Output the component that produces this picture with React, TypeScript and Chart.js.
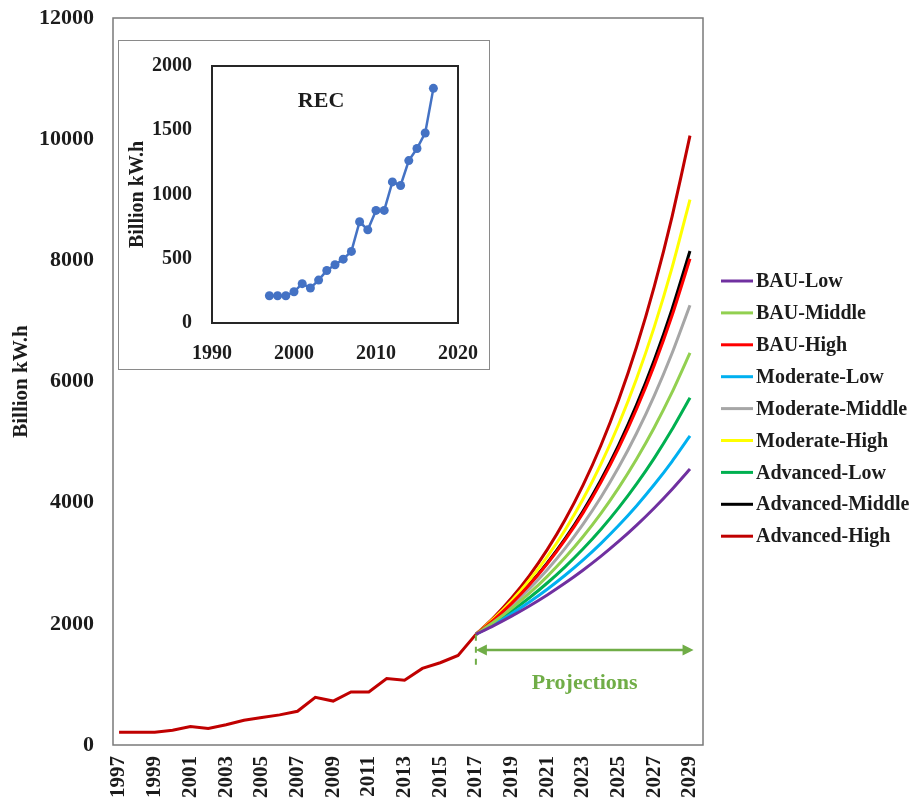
import React, { useEffect, useRef } from "react";
import { Chart, registerables } from "chart.js";

Chart.register(...registerables);

const FONT = "'Liberation Serif', 'Times New Roman', Times, serif";

// Historical renewable electricity consumption (REC), billion kW.h
const histYears = [1997, 1998, 1999, 2000, 2001, 2002, 2003, 2004, 2005, 2006, 2007, 2008, 2009, 2010, 2011, 2012, 2013, 2014, 2015, 2016, 2017];
const recValues = [212, 212, 212, 243, 306, 272, 334, 409, 453, 497, 557, 788, 725, 876, 876, 1098, 1070, 1264, 1358, 1479, 1826];

// Projection years and scenario series
const projYears = [2017, 2018, 2019, 2020, 2021, 2022, 2023, 2024, 2025, 2026, 2027, 2028, 2029];
const bauLow = [1826, 1971, 2127, 2295, 2477, 2673, 2885, 3113, 3360, 3626, 3913, 4223, 4557];
const bauMiddle = [1826, 2029, 2255, 2505, 2784, 3094, 3438, 3820, 4245, 4717, 5241, 5824, 6472];
const bauHigh = [1826, 2066, 2337, 2644, 2991, 3384, 3828, 4331, 4899, 5542, 6270, 7093, 8025];
const moderateLow = [1826, 1989, 2167, 2361, 2572, 2802, 3052, 3325, 3622, 3946, 4299, 4683, 5102];
const moderateMiddle = [1826, 2049, 2298, 2579, 2893, 3245, 3641, 4085, 4583, 5141, 5768, 6471, 7260];
const moderateHigh = [1826, 2086, 2382, 2721, 3108, 3550, 4055, 4632, 5290, 6042, 6902, 7883, 9004];
const advancedLow = [1826, 2009, 2210, 2430, 2674, 2941, 3235, 3558, 3914, 4306, 4736, 5210, 5731];
const advancedMiddle = [1826, 2069, 2343, 2654, 3007, 3406, 3859, 4371, 4951, 5609, 6354, 7198, 8153];
const advancedHigh = [1826, 2105, 2427, 2797, 3225, 3718, 4286, 4940, 5695, 6565, 7569, 8725, 10058];

const scenarioNames = ["BAU-Low", "BAU-Middle", "BAU-High", "Moderate-Low", "Moderate-Middle", "Moderate-High", "Advanced-Low", "Advanced-Middle", "Advanced-High"];
const scenarioSeries = [bauLow, bauMiddle, bauHigh, moderateLow, moderateMiddle, moderateHigh, advancedLow, advancedMiddle, advancedHigh];
const scenarioColors = ["#7030A0", "#92D050", "#FF0000", "#00B0F0", "#A6A6A6", "#FFFF00", "#00B050", "#000000", "#C00000"];

// Tick labels
const mainXTicks = [1997, 1999, 2001, 2003, 2005, 2007, 2009, 2011, 2013, 2015, 2017, 2019, 2021, 2023, 2025, 2027, 2029];
const mainYTicks = [0, 2000, 4000, 6000, 8000, 10000, 12000];
const insetXTicks = [1990, 2000, 2010, 2020];
const insetYTicks = [0, 500, 1000, 1500, 2000];

// Annotation anchors (data units)
const projStartYear = 2017;
const projArrowEndYear = 2029.2;
const projArrowValue = 1570;
const projDashTop = 1820;
const projDashBottom = 1300;
const projLabelValue = 1020;

const TEXT = "#1c1c1c";
const GREEN = "#70AD47";

const zeroPad = (s: any) => {
  s.paddingTop = 0;
  s.paddingBottom = 0;
  s.paddingLeft = 0;
  s.paddingRight = 0;
};

export default function App() {
  const mainRef = useRef<HTMLCanvasElement>(null);
  const insetRef = useRef<HTMLCanvasElement>(null);

  useEffect(() => {
    const frame = {
      id: "frame",
      afterDraw(chart: any) {
        const { ctx, chartArea: a } = chart;
        ctx.save();
        ctx.strokeStyle = "#7a7a7a";
        ctx.lineWidth = 1.5;
        ctx.strokeRect(a.left, a.top, a.right - a.left, a.bottom - a.top);
        ctx.restore();
      },
    };

    const annotations = {
      id: "annotations",
      afterDatasetsDraw(chart: any) {
        const { ctx } = chart;
        const xs = chart.scales.x;
        const ys = chart.scales.y;
        const x1 = xs.getPixelForValue(projStartYear);
        const x2 = xs.getPixelForValue(projArrowEndYear);
        const ya = ys.getPixelForValue(projArrowValue);
        ctx.save();
        ctx.strokeStyle = GREEN;
        ctx.fillStyle = GREEN;
        ctx.lineWidth = 2;
        ctx.setLineDash([6, 6]);
        ctx.beginPath();
        ctx.moveTo(x1, ys.getPixelForValue(projDashTop));
        ctx.lineTo(x1, ys.getPixelForValue(projDashBottom));
        ctx.stroke();
        ctx.setLineDash([]);
        ctx.lineWidth = 2.5;
        ctx.beginPath();
        ctx.moveTo(x1 + 8, ya);
        ctx.lineTo(x2 - 8, ya);
        ctx.stroke();
        const head = (x: number, dir: number) => {
          ctx.beginPath();
          ctx.moveTo(x, ya);
          ctx.lineTo(x - dir * 11, ya - 5.5);
          ctx.lineTo(x - dir * 11, ya + 5.5);
          ctx.closePath();
          ctx.fill();
        };
        head(x1, -1);
        head(x2, 1);
        ctx.font = `bold 22px ${FONT}`;
        ctx.textAlign = "center";
        ctx.textBaseline = "middle";
        ctx.fillText("Projections", (x1 + x2) / 2, ys.getPixelForValue(projLabelValue));
        ctx.restore();
      },
    };

    const legend = {
      id: "customLegend",
      afterDraw(chart: any) {
        const { ctx, chartArea: a } = chart;
        ctx.save();
        ctx.font = `bold 20px ${FONT}`;
        ctx.textBaseline = "middle";
        ctx.textAlign = "left";
        scenarioNames.forEach((name, i) => {
          const y = 281 + i * 31.9;
          const x0 = a.right + 18;
          ctx.strokeStyle = scenarioColors[i];
          ctx.lineWidth = 3;
          ctx.beginPath();
          ctx.moveTo(x0, y);
          ctx.lineTo(x0 + 32, y);
          ctx.stroke();
          ctx.fillStyle = TEXT;
          ctx.fillText(name, x0 + 35, y + 1);
        });
        ctx.restore();
      },
    };

    const mainChart = new Chart(mainRef.current!, {
      type: "line",
      data: {
        datasets: [
          {
            label: "REC",
            data: histYears.map((x, i) => ({ x, y: recValues[i] })),
            borderColor: "#C00000",
            backgroundColor: "#C00000",
            borderWidth: 3,
            pointRadius: 0,
            tension: 0,
          },
          ...scenarioNames.map((name, k) => ({
            label: name,
            data: projYears.map((x, i) => ({ x, y: scenarioSeries[k][i] })),
            borderColor: scenarioColors[k],
            backgroundColor: scenarioColors[k],
            borderWidth: 3,
            pointRadius: 0,
            tension: 0.2,
          })),
        ],
      },
      options: {
        responsive: false,
        animation: false,
        devicePixelRatio: 1,
        layout: { padding: { top: 18, right: 218, left: 0, bottom: 0 } },
        plugins: { legend: { display: false }, tooltip: { enabled: false } },
        scales: {
          x: {
            type: "linear",
            min: 1996.66,
            max: 2029.73,
            grid: { display: false, drawTicks: false },
            border: { display: false },
            afterBuildTicks: (s: any) => {
              s.ticks = mainXTicks.map((v) => ({ value: v }));
            },
            afterFit: (s: any) => {
              s.height = 65;
              zeroPad(s);
            },
            ticks: {
              autoSkip: false,
              minRotation: 90,
              maxRotation: 90,
              padding: 11,
              color: TEXT,
              font: { family: FONT, size: 21, weight: "bold" },
              callback: (v: any) => String(v),
            },
          },
          y: {
            type: "linear",
            min: 0,
            max: 12000,
            grid: { display: false, drawTicks: false },
            border: { display: false },
            afterBuildTicks: (s: any) => {
              s.ticks = mainYTicks.map((v) => ({ value: v }));
            },
            afterFit: (s: any) => {
              s.width = 113;
              zeroPad(s);
            },
            ticks: {
              padding: 19,
              color: TEXT,
              font: { family: FONT, size: 22, weight: "bold" },
              callback: (v: any) => String(v),
            },
            title: {
              display: true,
              text: "Billion kW.h",
              color: TEXT,
              font: { family: FONT, size: 21, weight: "bold" },
              padding: { top: 9, bottom: 0 },
            },
          },
        },
      },
      plugins: [frame, annotations, legend],
    } as any);

    const insetBg = {
      id: "insetBg",
      beforeDraw(chart: any) {
        const { ctx, width, height } = chart;
        ctx.save();
        ctx.fillStyle = "#ffffff";
        ctx.fillRect(0, 0, width, height);
        ctx.strokeStyle = "#8a8a8a";
        ctx.lineWidth = 1;
        ctx.strokeRect(0.5, 0.5, width - 1, height - 1);
        ctx.restore();
      },
      afterDraw(chart: any) {
        const { ctx, chartArea: a } = chart;
        ctx.save();
        ctx.strokeStyle = "#262626";
        ctx.lineWidth = 2;
        ctx.strokeRect(a.left, a.top, a.right - a.left, a.bottom - a.top);
        ctx.font = `bold 22px ${FONT}`;
        ctx.fillStyle = TEXT;
        ctx.textAlign = "center";
        ctx.textBaseline = "middle";
        ctx.fillText("REC", chart.scales.x.getPixelForValue(2003.3), chart.scales.y.getPixelForValue(1725));
        ctx.restore();
      },
    };

    const insetChart = new Chart(insetRef.current!, {
      type: "line",
      data: {
        datasets: [
          {
            label: "REC",
            data: histYears.map((x, i) => ({ x, y: recValues[i] })),
            borderColor: "#4472C4",
            backgroundColor: "#4472C4",
            borderWidth: 2.5,
            pointRadius: 4.5,
            pointBorderWidth: 0,
            tension: 0,
          },
        ],
      },
      options: {
        responsive: false,
        animation: false,
        devicePixelRatio: 1,
        layout: { padding: { top: 26, right: 32, left: 0, bottom: 0 } },
        plugins: { legend: { display: false }, tooltip: { enabled: false } },
        scales: {
          x: {
            type: "linear",
            min: 1990,
            max: 2020,
            grid: { display: false, drawTicks: false },
            border: { display: false },
            afterBuildTicks: (s: any) => {
              s.ticks = insetXTicks.map((v) => ({ value: v }));
            },
            afterFit: (s: any) => {
              s.height = 47;
              zeroPad(s);
            },
            ticks: {
              autoSkip: false,
              maxRotation: 0,
              padding: 19,
              color: TEXT,
              font: { family: FONT, size: 20, weight: "bold" },
              callback: (v: any) => String(v),
            },
          },
          y: {
            type: "linear",
            min: 0,
            max: 2000,
            grid: { display: false, drawTicks: false },
            border: { display: false },
            afterBuildTicks: (s: any) => {
              s.ticks = insetYTicks.map((v) => ({ value: v }));
            },
            afterFit: (s: any) => {
              s.width = 94;
              zeroPad(s);
            },
            ticks: {
              padding: 20,
              color: TEXT,
              font: { family: FONT, size: 20, weight: "bold" },
              callback: (v: any) => String(v),
            },
            title: {
              display: true,
              text: "Billion kW.h",
              color: TEXT,
              font: { family: FONT, size: 20, weight: "bold" },
              padding: { top: 8, bottom: 0 },
            },
          },
        },
      },
      plugins: [insetBg],
    } as any);

    return () => {
      mainChart.destroy();
      insetChart.destroy();
    };
  }, []);

  return (
    <div style={{ position: "absolute", left: 0, top: 0, width: 921, height: 810, background: "#ffffff" }}>
      <canvas
        ref={mainRef}
        width={921}
        height={810}
        style={{ position: "absolute", left: 0, top: 0, width: "921px", height: "810px" }}
      />
      <canvas
        ref={insetRef}
        width={372}
        height={330}
        style={{ position: "absolute", left: 118, top: 40, width: "372px", height: "330px" }}
      />
    </div>
  );
}
